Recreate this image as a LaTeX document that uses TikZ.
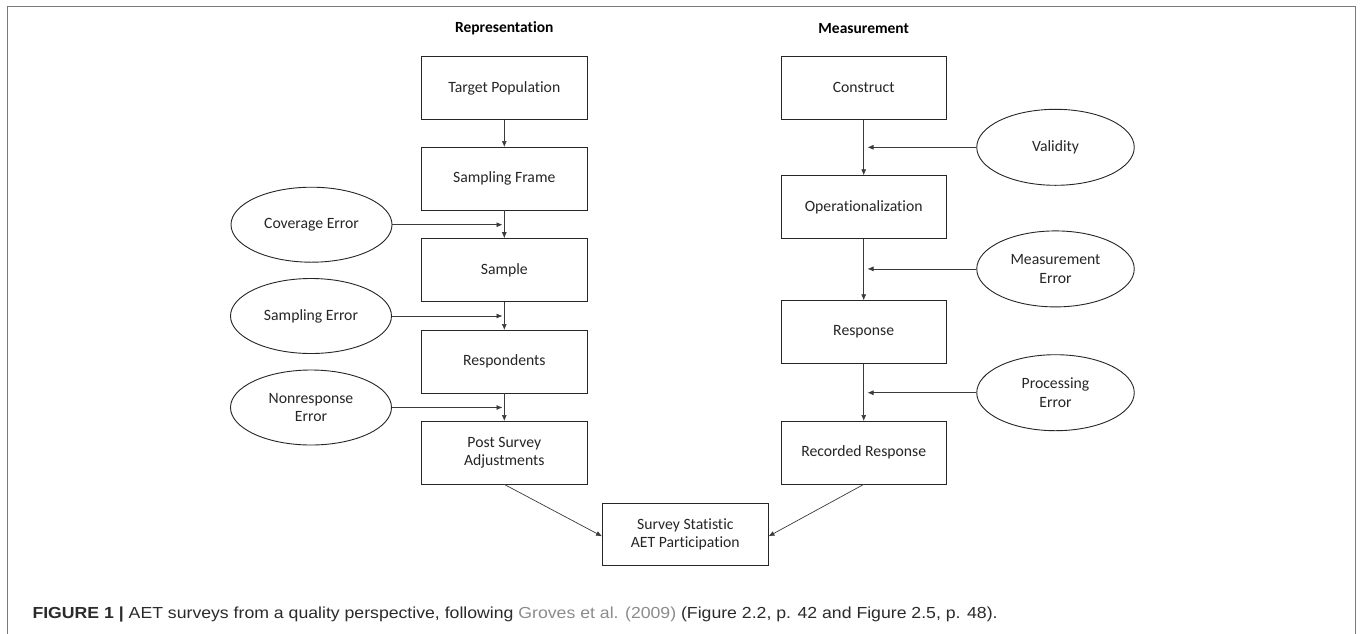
\documentclass[tikz,border=0pt]{standalone}
\usepackage{fontspec}
\setmainfont{Carlito}[Ligatures={NoCommon}]
\newfontfamily\capfont{Liberation Sans}[FakeStretch=1.104]
\usetikzlibrary{arrows.meta,shapes.geometric}
\definecolor{framegray}{HTML}{7A7A7A}
\definecolor{capdark}{HTML}{2B2B2B}
\definecolor{capgray}{HTML}{8C8C8C}
\definecolor{linegray}{HTML}{3A3A3A}
\tikzset{
  stepbox/.style={draw=black!85, line width=0.9pt, minimum width=165.5pt, minimum height=62.5pt, inner sep=0pt, align=center, font=\fontsize{15.7}{18.5}\selectfont, text=black!85},
  errell/.style={draw=black!85, line width=0.9pt, ellipse, minimum width=161pt, minimum height=75pt, inner sep=0pt, align=center, font=\fontsize{15.7}{18.5}\selectfont, text=black!85},
  head/.style={font=\fontsize{15.5}{18.5}\selectfont\bfseries, text=black},
  flow/.style={draw=linegray, line width=0.7pt, -{Latex[length=6pt,width=5pt]}},
}
\begin{document}
\begin{tikzpicture}[x=1pt,y=-1pt]
\useasboundingbox (0,0) rectangle (1360,633);
\fill[white] (0,0) rectangle (1360,633);
\draw[framegray, line width=1.6pt] (7.5,640) -- (7.5,6.5) -- (1355.5,6.5) -- (1355.5,640);

\node[head] (hrep) at (504.3,28.3) {Representation};
\node[head] (hmea) at (863.7,28.3) {Measurement};

% left column
\node[stepbox] (tp) at (504.3,87.9) {Target Population};
\node[stepbox] (sf) at (504.3,178.7) {Sampling Frame};
\node[stepbox] (sa) at (504.3,269.9) {Sample};
\node[stepbox] (re) at (504.3,361.7) {Respondents};
\node[stepbox] (ps) at (504.3,452.7) {Post Survey\\Adjustments};

% right column
\node[stepbox] (co) at (863.7,87.9) {Construct};
\node[stepbox] (op) at (863.7,207.0) {Operationalization};
\node[stepbox] (rs) at (863.7,332.0) {Response};
\node[stepbox] (rr) at (863.7,452.7) {Recorded Response};

% bottom
\node[stepbox] (ss) at (685.3,534.5) {Survey Statistic\\AET Participation};

% ellipses left
\node[errell] (ce) at (311.5,224.7) {Coverage Error};
\node[errell] (se) at (311.0,316.0) {Sampling Error};
\node[errell] (ne) at (311.0,407.5) {Nonresponse\\Error};

% ellipses right
\node[errell, minimum width=157.5pt, minimum height=76pt] (va) at (1055.5,147.3) {Validity};
\node[errell, minimum width=157.5pt, minimum height=76pt] (me) at (1055.5,268.9) {Measurement\\Error};
\node[errell, minimum width=157.5pt, minimum height=76pt] (pe) at (1055.5,392.7) {Processing\\Error};

% vertical flow
\draw[flow] (tp) -- (sf);
\draw[flow] (sf) -- (sa);
\draw[flow] (sa) -- (re);
\draw[flow] (re) -- (ps);
\draw[flow] (co) -- (op);
\draw[flow] (op) -- (rs);
\draw[flow] (rs) -- (rr);

% error arrows
\coordinate (tce) at (502.5,224.7);
\coordinate (tse) at (502.5,316.0);
\coordinate (tne) at (502.5,407.5);
\coordinate (tva) at (867.5,147.3);
\coordinate (tme) at (867.5,268.9);
\coordinate (tpe) at (867.5,392.7);
\draw[flow] (ce.east) -- (tce);
\draw[flow] (se.east) -- (tse);
\draw[flow] (ne.east) -- (tne);
\draw[flow] (va.west) -- (tva);
\draw[flow] (me.west) -- (tme);
\draw[flow] (pe.west) -- (tpe);

% to survey statistic
\draw[flow] (ps.south) -- ([yshift=-1.8pt]ss.west);
\draw[flow] (rr.south) -- ([yshift=-1.8pt]ss.east);

% caption
\node[anchor=base west, inner sep=0pt, font=\capfont\fontsize{16}{18}\selectfont, text=capdark] (cap) at (32.3,618)
  {\textbf{FIGURE 1} \textbf{|} AET surveys from a quality perspective, following \textcolor{capgray}{Groves et al. (2009)} (Figure 2.2, p. 42 and Figure 2.5, p. 48).};
\end{tikzpicture}
\end{document}
